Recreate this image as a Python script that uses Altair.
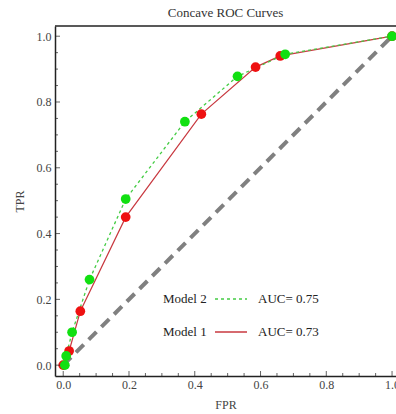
import altair as alt
import pandas as pd

# ---- data ----
model1_fpr = [0.0, 0.018, 0.052, 0.19, 0.42, 0.585, 0.66, 1.0]
model1_tpr = [0.0, 0.043, 0.164, 0.45, 0.763, 0.906, 0.94, 1.0]
model2_fpr = [0.005, 0.009, 0.027, 0.08, 0.19, 0.37, 0.53, 0.675, 1.0]
model2_tpr = [0.0, 0.028, 0.10, 0.26, 0.505, 0.74, 0.878, 0.945, 1.0]
diag_vals = [0.0, 1.0]
major_ticks = [0.0, 0.2, 0.4, 0.6, 0.8, 1.0]
minor_ticks = [0.05, 0.1, 0.15, 0.25, 0.3, 0.35, 0.45, 0.5, 0.55,
               0.65, 0.7, 0.75, 0.85, 0.9, 0.95]
legend_models = ["Model 2", "Model 1"]
legend_auc = ["AUC= 0.75", "AUC= 0.73"]

W, H = 341, 350
FONT = "Liberation Serif"

m1 = pd.DataFrame({"fpr": model1_fpr, "tpr": model1_tpr, "order": range(len(model1_fpr))})
m2 = pd.DataFrame({"fpr": model2_fpr, "tpr": model2_tpr, "order": range(len(model2_fpr))})
diag = pd.DataFrame({"fpr": diag_vals, "tpr": diag_vals})
major = pd.DataFrame({"v": major_ticks})
minor = pd.DataFrame({"v": minor_ticks})

xscale = alt.Scale(domain=[-0.025, 1.012], nice=False, zero=False)
yscale = alt.Scale(domain=[-0.033, 1.031], nice=False, zero=False)

axis_style = dict(format=".1f", ticks=False, tickSize=0, domain=True, domainColor="#222",
                  domainWidth=1.5, grid=False, labelFlush=False,
                  labelFont=FONT, titleFont=FONT, labelFontSize=12, titleFontSize=12,
                  titleFontWeight="normal", labelColor="#444", titleColor="#444")
xaxis = alt.Axis(title="FPR", values=major_ticks, labelPadding=3, titlePadding=9, **axis_style)
yaxis = alt.Axis(title="TPR", values=major_ticks, labelPadding=4, titlePadding=10, **axis_style)

X = lambda: alt.X("fpr:Q", scale=xscale, axis=xaxis)
Y = lambda: alt.Y("tpr:Q", scale=yscale, axis=yaxis)

diag_layer = alt.Chart(diag).mark_line(color="#808080", strokeWidth=4, strokeDash=[11, 7]).encode(
    x=X(), y=Y())

red_line = alt.Chart(m1).mark_line(color="#c8383f", strokeWidth=1.2).encode(
    x=X(), y=Y(), order="order:Q")
green_line = alt.Chart(m2).mark_line(color="#44cc44", strokeWidth=1.3, strokeDash=[3, 3]).encode(
    x=X(), y=Y(), order="order:Q")
red_pts = alt.Chart(m1).mark_circle(color="#ee1111", size=95, opacity=1).encode(x=X(), y=Y())
green_pts = alt.Chart(m2).mark_circle(color="#11e011", size=95, opacity=1).encode(x=X(), y=Y())

# inward ticks (Mathematica frame style)
bx_major = alt.Chart(major).mark_tick(color="#222", thickness=1).encode(
    x=alt.X("v:Q", scale=xscale, axis=xaxis), y=alt.value(H - 2.5), size=alt.value(5))
bx_minor = alt.Chart(minor).mark_tick(color="#222", thickness=1).encode(
    x=alt.X("v:Q", scale=xscale, axis=xaxis), y=alt.value(H - 1.5), size=alt.value(3))
ly_major = alt.Chart(major).mark_tick(color="#222", thickness=1).encode(
    y=alt.Y("v:Q", scale=yscale, axis=yaxis), x=alt.value(2.5), size=alt.value(5))
ly_minor = alt.Chart(minor).mark_tick(color="#222", thickness=1).encode(
    y=alt.Y("v:Q", scale=yscale, axis=yaxis), x=alt.value(1.5), size=alt.value(3))

# top frame line
top_frame = alt.Chart(major).transform_filter("datum.v == 0").mark_rule(
    color="#222", strokeWidth=1.5).encode(x=alt.value(0), x2=alt.value(W), y=alt.value(0))

# legend
leg = pd.DataFrame({"model": legend_models, "auc": legend_auc, "row": [0, 1]})
ROW_Y = [273, 306]
legend_layers = []
for r in (0, 1):
    base = alt.Chart(leg).transform_filter(f"datum.row == {r}")
    legend_layers.append(base.mark_text(font=FONT, fontSize=13, align="left", baseline="middle",
                                        color="#222").encode(text="model:N", x=alt.value(108),
                                                             y=alt.value(ROW_Y[r])))
    legend_layers.append(base.mark_text(font=FONT, fontSize=13, align="left", baseline="middle",
                                        color="#222").encode(text="auc:N", x=alt.value(203),
                                                             y=alt.value(ROW_Y[r])))
leg_green = alt.Chart(leg).transform_filter("datum.row == 0").mark_rule(
    color="#44cc44", strokeWidth=1.5, strokeDash=[3, 3]).encode(
    x=alt.value(160), x2=alt.value(192), y=alt.value(ROW_Y[0]))
leg_red = alt.Chart(leg).transform_filter("datum.row == 1").mark_rule(
    color="#c8383f", strokeWidth=1.5).encode(
    x=alt.value(160), x2=alt.value(192), y=alt.value(ROW_Y[1]))

chart = alt.layer(
    diag_layer, red_line, green_line, red_pts, green_pts,
    bx_major, bx_minor, ly_major, ly_minor, top_frame,
    *legend_layers, leg_green, leg_red,
).properties(
    width=W, height=H, background="white",
    title=alt.Title("Concave ROC Curves", font=FONT, fontSize=13, fontWeight="normal",
                    color="#333", offset=5, anchor="middle"),
    autosize=alt.AutoSizeParams(type="none"),
    padding={"left": 55, "top": 26, "right": 0, "bottom": 38},
).configure_view(stroke=None)

chart.save("out.html", embed_options={"renderer": "svg", "actions": False})
